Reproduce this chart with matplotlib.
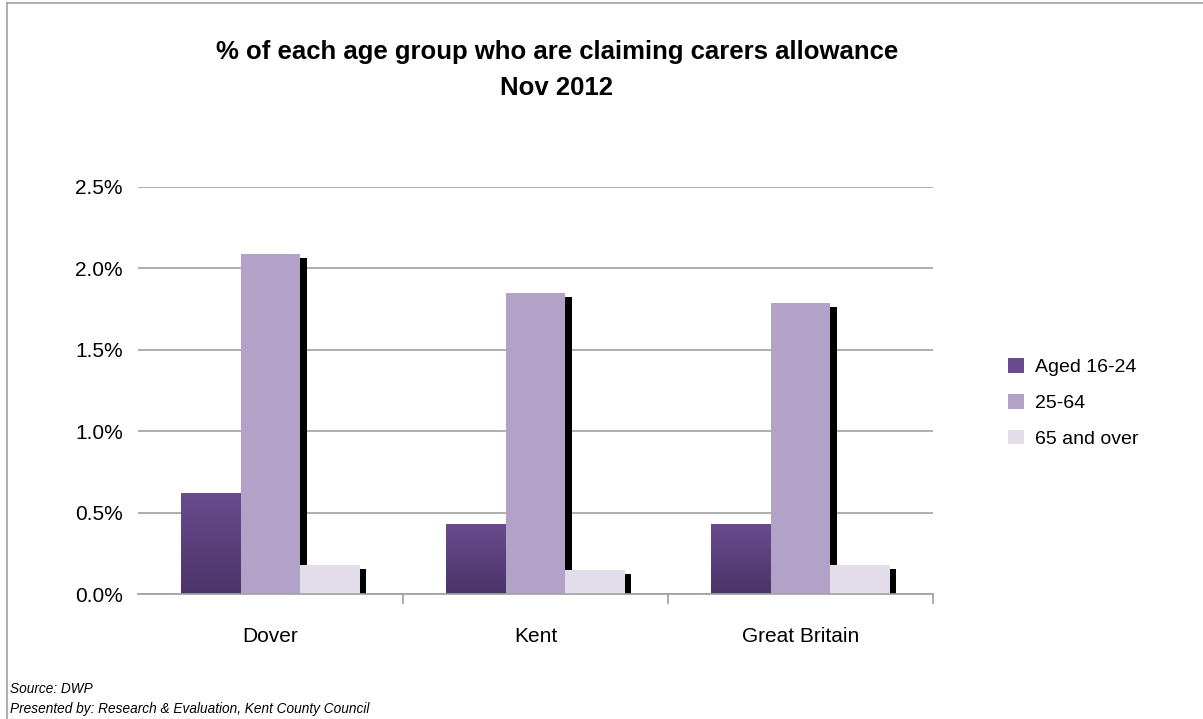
import numpy as np
import matplotlib as mpl
import matplotlib.pyplot as plt
from matplotlib.ticker import PercentFormatter, FixedLocator
from matplotlib.patches import Patch
from matplotlib.lines import Line2D

mpl.rcParams['font.family'] = ['Liberation Sans', 'DejaVu Sans']

# Data (percent of each age group claiming carers allowance, Nov 2012)
areas = ["Dover", "Kent", "Great Britain"]
series = ["Aged 16-24", "25-64", "65 and over"]
aged_16_24 = [0.62, 0.43, 0.43]
aged_25_64 = [2.09, 1.85, 1.79]
aged_65_over = [0.18, 0.15, 0.18]

colors = ["#5c4180", "#b2a2c8", "#e3dceb"]
grad_top, grad_bottom = "#6b4b8f", "#4a3468"

fig = plt.figure(figsize=(12.03, 7.19), dpi=100)
ax = fig.add_axes([138 / 1203, 1 - 594 / 719, (933 - 138) / 1203, (594 - 187) / 719])

x = np.arange(len(areas))
width = 0.226
offsets = [-width, 0, width]
shadow_dx = 0.023
shadow_drop = 0.025

values = [aged_16_24, aged_25_64, aged_65_over]
for i, vals in enumerate(values):
    pos = x + offsets[i]
    # black drop shadow to the right
    ax.bar(pos + shadow_dx, [v - shadow_drop for v in vals], width, color="black", zorder=1)
    bars = ax.bar(pos, vals, width, color=colors[i], zorder=2)
    if i == 0:
        # vertical gradient for the darkest series
        cmap = mpl.colors.LinearSegmentedColormap.from_list("g", [grad_bottom, grad_top])
        grad = np.linspace(0, 1, 256).reshape(-1, 1)
        for b in bars:
            x0, w, h = b.get_x(), b.get_width(), b.get_height()
            im = ax.imshow(grad, cmap=cmap, origin="lower", aspect="auto",
                           extent=[x0, x0 + w, 0, h], zorder=2.1)
            im.set_clip_path(b)

ax.set_xlim(-0.5, 2.5)
ax.set_ylim(0, 2.5)
ax.set_yticks(np.arange(0, 2.51, 0.5))
ax.yaxis.set_major_formatter(PercentFormatter(decimals=1))
ax.yaxis.grid(True, color="#a0a0a0", linewidth=1.2)
ax.set_axisbelow(True)

ax.set_xticks(x)
ax.set_xticklabels(areas)
ax.xaxis.set_minor_locator(FixedLocator([0.5, 1.5, 2.5]))
ax.tick_params(axis="x", which="major", length=0, pad=24, labelsize=15)
ax.tick_params(axis="x", which="minor", length=7, color="#a0a0a0", width=1.2)
ax.tick_params(axis="y", length=0, pad=11, labelsize=15)

for s in ["top", "right", "left"]:
    ax.spines[s].set_visible(False)
ax.spines["bottom"].set_color("#a0a0a0")
ax.spines["bottom"].set_linewidth(1.2)

# title
fig.text(557 / 1203, 1 - 52 / 719, "% of each age group who are claiming carers allowance",
         ha="center", va="center", fontsize=18.5, fontweight="bold")
fig.text(557 / 1203, 1 - 88 / 719, "Nov 2012",
         ha="center", va="center", fontsize=18.5, fontweight="bold")

# legend
handles = [Patch(facecolor=c, edgecolor="none") for c in [grad_top, colors[1], colors[2]]]
fig.legend(handles, series, loc="center left", bbox_to_anchor=(991 / 1203, 1 - 403 / 719),
           frameon=False, fontsize=14, handlelength=0.8, handleheight=0.8,
           handletextpad=0.55, labelspacing=0.9)

# footer
fig.text(10 / 1203, 1 - 689 / 719, "Source: DWP", fontsize=9.8, style="italic", va="center")
fig.text(10 / 1203, 1 - 709 / 719, "Presented by: Research & Evaluation, Kent County Council",
         fontsize=9.8, style="italic", va="center")

# outer border
fig.add_artist(Line2D([7 / 1203, 7 / 1203], [0, 1 - 3 / 719], color="#a0a0a0", lw=1.2))
fig.add_artist(Line2D([7 / 1203, 1], [1 - 3 / 719, 1 - 3 / 719], color="#a0a0a0", lw=1.2))

fig.savefig("out.png", dpi=100)
